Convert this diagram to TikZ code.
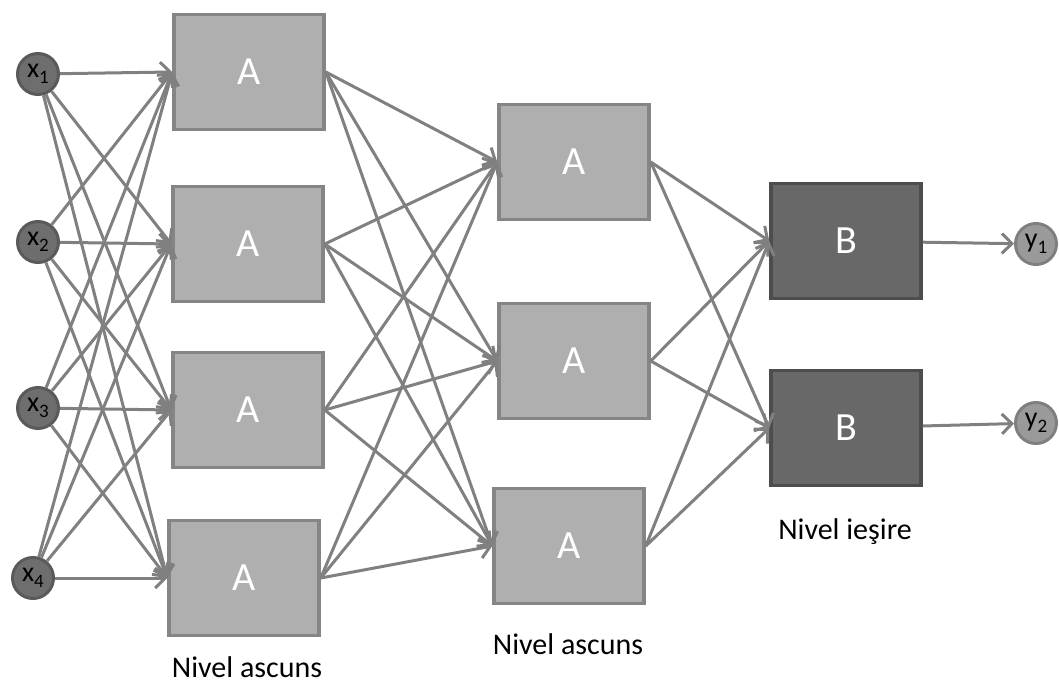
\documentclass[tikz,border=0pt]{standalone}
\usepackage{fontspec}
\setmainfont{Carlito}
\usetikzlibrary{arrows.meta,positioning}
\definecolor{lnk}{HTML}{808080}
\definecolor{infill}{HTML}{6E6E6E}
\definecolor{inbrd}{HTML}{5A5A5A}
\definecolor{outfill}{HTML}{9A9A9A}
\definecolor{outbrd}{HTML}{7F7F7F}
\definecolor{afill}{HTML}{AFAFAF}
\definecolor{abrd}{HTML}{858585}
\definecolor{bfill}{HTML}{686868}
\definecolor{bbrd}{HTML}{4D4D4D}
\newcommand{\idx}[1]{\raisebox{-0.45ex}{\fontsize{19}{19}\selectfont #1}}
\tikzset{
  invtx/.style={circle,draw=inbrd,fill=infill,line width=3pt,minimum size=41pt,inner sep=0pt,font=\fontsize{28}{28}\selectfont},
  outvtx/.style={invtx,draw=outbrd,fill=outfill},
  hidbox/.style={rectangle,draw=abrd,fill=afill,line width=3.5pt,minimum width=150pt,minimum height=115pt,text=white,font=\fontsize{40}{40}\selectfont},
  outbox/.style={hidbox,draw=bbrd,fill=bfill},
  edge/.style={-{Straight Barb[length=10pt,width=20pt]},draw=lnk,line width=3pt},
  lbl/.style={font=\fontsize{30}{30}\selectfont}
}

\begin{document}
\begin{tikzpicture}[x=1pt,y=-1pt]
\useasboundingbox (0,0) rectangle (1059,684);

% inputs
\node[invtx] (x1) at (38,74) {x\idx{1}};
\node[invtx] (x2) at (38,242) {x\idx{2}};
\node[invtx] (x3) at (38,408) {x\idx{3}};
\node[invtx] (x4) at (33,578) {x\idx{4}};

% first hidden level
\node[hidbox] (a1) at (249,72) {A};
\node[hidbox] (a2) at (248,244) {A};
\node[hidbox] (a3) at (248,410) {A};
\node[hidbox] (a4) at (244,578) {A};

% second hidden level
\node[hidbox] (a5) at (574,162) {A};
\node[hidbox] (a6) at (574,361) {A};
\node[hidbox] (a7) at (569,546) {A};

% output level
\node[outbox] (b1) at (846,241) {B};
\node[outbox] (b2) at (846,428) {B};
\node[outvtx] (y1) at (1036,244) {y\idx{1}};
\node[outvtx] (y2) at (1036,423) {y\idx{2}};

% inputs to first level
\draw[edge] (x1) -- (a1.west);
\draw[edge] (x1) -- (a2.west);
\draw[edge] (x1) -- (a3.west);
\draw[edge] (x1) -- (a4.west);
\draw[edge] (x2) -- (a1.west);
\draw[edge] (x2) -- (a2.west);
\draw[edge] (x2) -- (a3.west);
\draw[edge] (x2) -- (a4.west);
\draw[edge] (x3) -- (a1.west);
\draw[edge] (x3) -- (a2.west);
\draw[edge] (x3) -- (a3.west);
\draw[edge] (x3) -- (a4.west);
\draw[edge] (x4) -- (a1.west);
\draw[edge] (x4) -- (a2.west);
\draw[edge] (x4) -- (a3.west);
\draw[edge] (x4) -- (a4.west);

% first level to second level
\draw[edge] (a1.east) -- (a5.west);
\draw[edge] (a1.east) -- (a6.west);
\draw[edge] (a1.east) -- (a7.west);
\draw[edge] (a2.east) -- (a5.west);
\draw[edge] (a2.east) -- (a6.west);
\draw[edge] (a2.east) -- (a7.west);
\draw[edge] (a3.east) -- (a5.west);
\draw[edge] (a3.east) -- (a6.west);
\draw[edge] (a3.east) -- (a7.west);
\draw[edge] (a4.east) -- (a5.west);
\draw[edge] (a4.east) -- (a6.west);
\draw[edge] (a4.east) -- (a7.west);

% second level to output level
\draw[edge] (a5.east) -- (b1.west);
\draw[edge] (a5.east) -- (b2.west);
\draw[edge] (a6.east) -- (b1.west);
\draw[edge] (a6.east) -- (b2.west);
\draw[edge] (a7.east) -- (b1.west);
\draw[edge] (a7.east) -- (b2.west);
\draw[edge] (b1) -- (y1);
\draw[edge] (b2) -- (y2);

% level names
\node[lbl] (n1) at (247,667) {Nivel ascuns};
\node[lbl] (n2) at (568,644) {Nivel ascuns};
\node[lbl] (n3) at (845,532) {Nivel ieşire};
\end{tikzpicture}
\end{document}
